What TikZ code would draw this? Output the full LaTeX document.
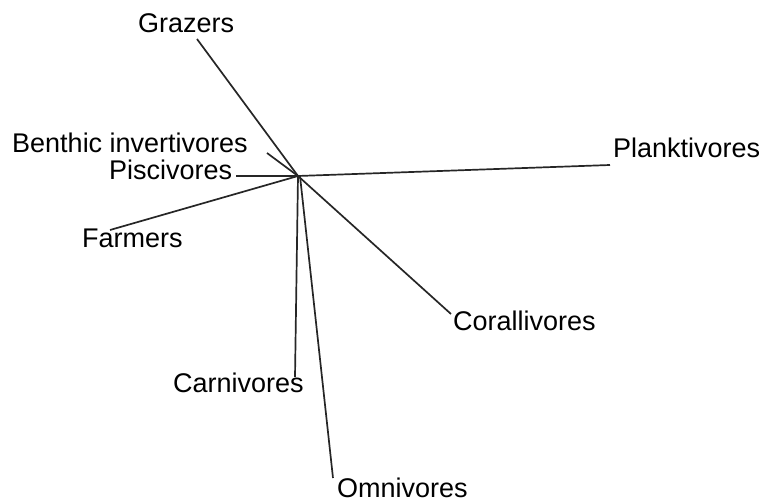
\documentclass[tikz,border=0pt]{standalone}
\usepackage{fontspec}
\setmainfont{Liberation Sans}
\begin{document}
\begin{tikzpicture}[x=1pt,y=-1pt,
  lbl/.style={inner sep=0pt,anchor=base west,font=\fontsize{27}{30}\selectfont},
  spoke/.style={draw=black!85,line width=1.7pt}]
\useasboundingbox (0,0) rectangle (766,502);
\coordinate (c) at (298,176);
\node[lbl] (graz) at (138,33) {Grazers};
\node[lbl] (bent) at (12,153) {Benthic invertivores};
\node[lbl] (pisc) at (109,180) {Piscivores};
\node[lbl] (farm) at (82,248) {Farmers};
\node[lbl] (plank) at (613,158) {Planktivores};
\node[lbl] (coral) at (453,331) {Corallivores};
\node[lbl] (carn) at (173,393) {Carnivores};
\node[lbl] (omni) at (337,497) {Omnivores};
\coordinate (egraz) at (197,39);
\coordinate (ebent) at (267,153);
\coordinate (episc) at (236,176);
\coordinate (efarm) at (110,230);
\coordinate (eplank) at (610,165);
\coordinate (ecoral) at (451,314);
\coordinate (ecarn) at (295,377);
\coordinate (eomni) at (333,478);
\draw[spoke] (c) -- (egraz);
\draw[spoke] (c) -- (ebent);
\draw[spoke] (c) -- (episc);
\draw[spoke] (c) -- (efarm);
\draw[spoke] (c) -- (eplank);
\draw[spoke] (c) -- (ecoral);
\draw[spoke] (c) -- (ecarn);
\draw[spoke] ([xshift=2pt]c) -- (eomni);
\end{tikzpicture}
\end{document}
